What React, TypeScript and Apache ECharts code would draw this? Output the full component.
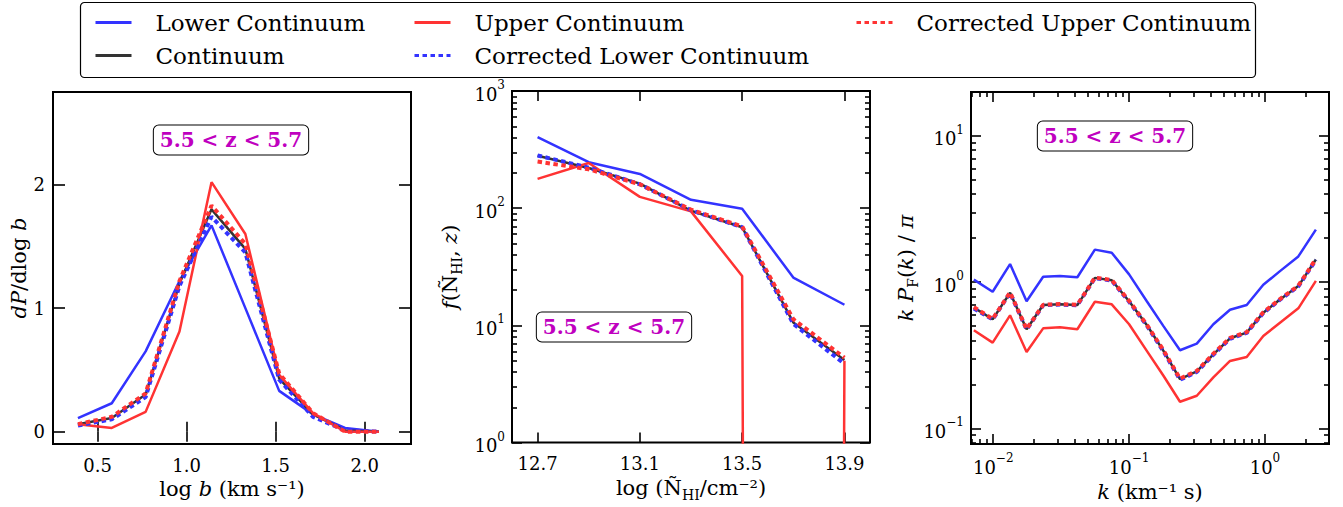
import React, { useEffect, useRef } from "react";
import * as echarts from "echarts";

// ---------- Data ----------
const SERIES_NAMES = [
  "Lower Continuum",
  "Continuum",
  "Upper Continuum",
  "Corrected Lower Continuum",
  "Corrected Upper Continuum",
];

// Panel 1: b-parameter distribution
const logB = [0.39, 0.58, 0.77, 0.96, 1.14, 1.33, 1.52, 1.71, 1.89, 2.08];
const bLower = [0.11, 0.23, 0.65, 1.22, 1.67, 1.0, 0.33, 0.14, 0.03, 0.0];
const bCont = [0.06, 0.11, 0.3, 1.2, 1.8, 1.48, 0.43, 0.14, 0.01, 0.0];
const bUpper = [0.06, 0.03, 0.16, 0.81, 2.02, 1.6, 0.46, 0.15, 0.0, 0.0];
const bCorrLower = [0.05, 0.1, 0.28, 1.18, 1.74, 1.45, 0.42, 0.12, 0.01, 0.0];
const bCorrUpper = [0.06, 0.12, 0.31, 1.22, 1.83, 1.52, 0.47, 0.15, 0.0, 0.0];

// Panel 2: column density distribution
const logN = [12.7, 12.9, 13.1, 13.3, 13.5, 13.7, 13.9];
const nLower = [404, 247, 196, 118, 99, 25.6, 15];
const nCont = [280, 220, 162, 95, 68.8, 10.6, 5.07];
const nUpper = [178, 243, 125, 94, 26.4, 1e-100, 5.0];
const nCorrLower = [282, 222, 160, 96, 69, 10.3, 4.7];
const nCorrUpper = [250, 215, 160, 97, 70, 11.3, 5.3];

// Panel 3: flux power spectrum
const kVals = [
  0.0072, 0.0099, 0.0133, 0.0176, 0.0233, 0.031, 0.0416, 0.056, 0.0745, 0.1,
  0.135, 0.179, 0.237, 0.315, 0.417, 0.553, 0.734, 0.972, 1.29, 1.76, 2.37,
];
const pLower = [
  1.04, 0.86, 1.33, 0.74, 1.09, 1.1, 1.08, 1.67, 1.59, 1.13, 0.74, 0.5, 0.342,
  0.38, 0.515, 0.648, 0.697, 0.96, 1.19, 1.5, 2.29,
];
const pCont = [
  0.67, 0.557, 0.847, 0.476, 0.697, 0.705, 0.697, 1.07, 1.03, 0.74, 0.509,
  0.339, 0.217, 0.245, 0.321, 0.413, 0.452, 0.618, 0.762, 0.94, 1.43,
];
const pUpper = [
  0.469, 0.386, 0.593, 0.333, 0.483, 0.491, 0.476, 0.735, 0.705, 0.515, 0.339,
  0.229, 0.152, 0.167, 0.223, 0.289, 0.308, 0.428, 0.528, 0.662, 1.02,
];
const pCorrLower = [
  0.66, 0.555, 0.845, 0.474, 0.695, 0.703, 0.695, 1.065, 1.025, 0.735, 0.505,
  0.336, 0.215, 0.243, 0.319, 0.41, 0.45, 0.615, 0.758, 0.935, 1.42,
];
const pCorrUpper = [
  0.675, 0.56, 0.85, 0.478, 0.7, 0.708, 0.7, 1.075, 1.035, 0.745, 0.512, 0.342,
  0.219, 0.247, 0.324, 0.416, 0.455, 0.622, 0.766, 0.945, 1.44,
];

// Tick values
const bTicksX = [0.5, 1.0, 1.5, 2.0];
const bTicksY = [0, 1, 2];
const nTicksX = [12.7, 13.1, 13.5, 13.9];
const nTicksY = [1, 10, 100, 1000];
const nMinorY = [
  2, 3, 4, 5, 6, 7, 8, 9, 20, 30, 40, 50, 60, 70, 80, 90, 200, 300, 400, 500,
  600, 700, 800, 900,
];
const kTicksX = [0.01, 0.1, 1];
const kMinorX = [
  0.007, 0.008, 0.009, 0.02, 0.03, 0.04, 0.05, 0.06, 0.07, 0.08, 0.09, 0.2, 0.3,
  0.4, 0.5, 0.6, 0.7, 0.8, 0.9, 2,
];
const kTicksY = [0.1, 1, 10];
const kMinorY = [
  0.08, 0.09, 0.2, 0.3, 0.4, 0.5, 0.6, 0.7, 0.8, 0.9, 2, 3, 4, 5, 6, 7, 8, 9,
  20,
];

const annotationText = "5.5 < z < 5.7";

// ---------- Styling ----------
const FONT = "'DejaVu Serif', serif";
const BLUE = "#3333ff";
const RED = "#ff3333";
const DARK = "#333333";
const MAGENTA = "#bf00bf";

const grids = [
  { left: 53, top: 92, width: 358, height: 352 },
  { left: 512, top: 91, width: 358, height: 353 },
  { left: 971, top: 92, width: 358, height: 353 },
];

const tickLabelStyle = { fontFamily: FONT, fontSize: 18, color: "#000" };
const NAME_FS = 21;
const richName = {
  r: { fontFamily: FONT, fontSize: NAME_FS, color: "#000" },
  i: { fontFamily: FONT, fontSize: NAME_FS, fontStyle: "italic", color: "#000" },
  sub: { fontFamily: FONT, fontSize: 14, color: "#000", verticalAlign: "bottom", lineHeight: 28 },
};
const richPow = {
  b: { fontFamily: FONT, fontSize: 18, color: "#000", lineHeight: 24, verticalAlign: "bottom" },
  s: { fontFamily: FONT, fontSize: 12, color: "#000", lineHeight: 24, verticalAlign: "top" },
};

const powFmt = (v: number) => {
  const e = Math.round(Math.log10(v));
  return `{b|10}{s|${e < 0 ? "\u2212" + -e : e}}`;
};

function mkAxis(opts: any) {
  const {
    gridIndex,
    type,
    min,
    max,
    position,
    ticks,
    len,
    labels,
    formatter,
    name,
    nameGap,
    nameRotate,
    margin,
    rich,
  } = opts;
  return {
    gridIndex,
    type,
    min,
    max,
    position,
    offset: 0,
    logBase: 10,
    axisLine: { show: false },
    splitLine: { show: false },
    minorTick: { show: false },
    axisTick: {
      show: true,
      inside: true,
      length: len,
      customValues: ticks,
      lineStyle: { color: "#000", width: 1.6 },
    },
    axisLabel: labels
      ? {
          show: true,
          customValues: ticks,
          formatter,
          margin: margin ?? 10,
          ...tickLabelStyle,
          rich,
        }
      : { show: false },
    name: name || "",
    nameLocation: "middle",
    nameGap: nameGap ?? 30,
    nameRotate,
    nameTextStyle: { rich: richName, fontFamily: FONT, fontSize: NAME_FS, color: "#000" },
  };
}

function buildSeries(x: number[], ys: number[][], xi: number, yi: number) {
  const styles = [
    { color: BLUE, width: 2.5, type: "solid" },
    { color: DARK, width: 2.5, type: "solid" },
    { color: RED, width: 2.5, type: "solid" },
    { color: BLUE, width: 4, type: [4.5, 3.5] },
    { color: RED, width: 4, type: [4.5, 3.5] },
  ];
  return ys.map((arr, i) => ({
    name: SERIES_NAMES[i],
    type: "line",
    xAxisIndex: xi,
    yAxisIndex: yi,
    data: arr.map((v, j) => [x[j], v]),
    showSymbol: false,
    symbol: "none",
    clip: true,
    lineStyle: { color: styles[i].color, width: styles[i].width, type: styles[i].type as any },
    itemStyle: { color: styles[i].color },
    emphasis: { disabled: true },
    z: 2 + i,
  }));
}

export default function App() {
  const ref = useRef<HTMLDivElement>(null);

  useEffect(() => {
    if (!ref.current) return;
    const chart = echarts.init(ref.current, undefined, { renderer: "svg" });

    const xAxis = [
      // panel 1
      mkAxis({
        gridIndex: 0, type: "value", min: 0.25, max: 2.26, position: "bottom",
        ticks: bTicksX, len: 10, labels: true, formatter: (v: number) => v.toFixed(1),
        name: "{r|log }{i|b}{r| (km s\u207B\u00B9)}", nameGap: 32, margin: 12,
      }),
      mkAxis({ gridIndex: 0, type: "value", min: 0.25, max: 2.26, position: "top", ticks: bTicksX, len: 10 }),
      // panel 2
      mkAxis({
        gridIndex: 1, type: "value", min: 12.6, max: 14.0, position: "bottom",
        ticks: nTicksX, len: 10, labels: true, formatter: (v: number) => v.toFixed(1),
        name: "{r|log (\u00D1}{sub|HI}{r|/cm\u207B\u00B2)}", nameGap: 31, margin: 12,
      }),
      mkAxis({ gridIndex: 1, type: "value", min: 12.6, max: 14.0, position: "top", ticks: nTicksX, len: 10 }),
      // panel 3
      mkAxis({
        gridIndex: 2, type: "log", min: 0.00686, max: 2.96, position: "bottom",
        ticks: kTicksX, len: 10, labels: true, formatter: powFmt, rich: richPow,
        name: "{i|k}{r| (km\u207B\u00B9 s)}", nameGap: 32, margin: 8,
      }),
      mkAxis({ gridIndex: 2, type: "log", min: 0.00686, max: 2.96, position: "top", ticks: kTicksX, len: 10 }),
      mkAxis({ gridIndex: 2, type: "log", min: 0.00686, max: 2.96, position: "bottom", ticks: kMinorX, len: 5 }),
      mkAxis({ gridIndex: 2, type: "log", min: 0.00686, max: 2.96, position: "top", ticks: kMinorX, len: 5 }),
    ];

    const yAxis = [
      // panel 1
      mkAxis({
        gridIndex: 0, type: "value", min: -0.1, max: 2.75, position: "left",
        ticks: bTicksY, len: 12, labels: true, formatter: (v: number) => String(v),
        name: "{i|dP}{r|/dlog }{i|b}", nameGap: 24, nameRotate: 90, margin: 8,
      }),
      mkAxis({ gridIndex: 0, type: "value", min: -0.1, max: 2.75, position: "right", ticks: bTicksY, len: 12 }),
      // panel 2
      mkAxis({
        gridIndex: 1, type: "log", min: 1, max: 1000, position: "left",
        ticks: nTicksY, len: 10, labels: true, formatter: powFmt, rich: richPow,
        name: "{i|f}{r|(\u00D1}{sub|HI}{r|, }{i|z}{r|)}", nameGap: 48, nameRotate: 90, margin: 7,
      }),
      mkAxis({ gridIndex: 1, type: "log", min: 1, max: 1000, position: "right", ticks: nTicksY, len: 10 }),
      mkAxis({ gridIndex: 1, type: "log", min: 1, max: 1000, position: "left", ticks: nMinorY, len: 5 }),
      mkAxis({ gridIndex: 1, type: "log", min: 1, max: 1000, position: "right", ticks: nMinorY, len: 5 }),
      // panel 3
      mkAxis({
        gridIndex: 2, type: "log", min: 0.078, max: 20, position: "left",
        ticks: kTicksY, len: 10, labels: true, formatter: powFmt, rich: richPow,
        name: "{i|k P}{sub|F}{r|(}{i|k}{r|) / }{i|\u03C0}", nameGap: 48, nameRotate: 90, margin: 7,
      }),
      mkAxis({ gridIndex: 2, type: "log", min: 0.078, max: 20, position: "right", ticks: kTicksY, len: 10 }),
      mkAxis({ gridIndex: 2, type: "log", min: 0.078, max: 20, position: "left", ticks: kMinorY, len: 5 }),
      mkAxis({ gridIndex: 2, type: "log", min: 0.078, max: 20, position: "right", ticks: kMinorY, len: 5 }),
    ];

    const series = [
      ...buildSeries(logB, [bLower, bCont, bUpper, bCorrLower, bCorrUpper], 0, 0),
      ...buildSeries(logN, [nLower, nCont, nUpper, nCorrLower, nCorrUpper], 2, 2),
      ...buildSeries(kVals, [pLower, pCont, pUpper, pCorrLower, pCorrUpper], 4, 6),
    ];

    const legendCommon = {
      orient: "vertical",
      top: 10,
      padding: 0,
      itemWidth: 36,
      itemHeight: 14,
      itemGap: 8,
      selectedMode: false,
      itemStyle: { color: "transparent", borderColor: "transparent", borderWidth: 0 },
      lineStyle: { width: 3 },
      textStyle: {
        fontFamily: FONT,
        fontSize: 23,
        color: "#000",
        lineHeight: 25,
        padding: [0, 0, 0, 19],
      },
    };

    const annot = (cx: number, cy: number) => ({
      type: "text",
      x: cx,
      y: cy,
      z: 100,
      style: {
        text: annotationText,
        align: "center",
        verticalAlign: "middle",
        fill: MAGENTA,
        font: `bold 20px ${FONT}`,
        backgroundColor: "#fff",
        borderColor: "#000",
        borderWidth: 1,
        borderRadius: 5,
        padding: [5, 6, 4, 6],
      },
    });

    chart.setOption({
      animation: false,
      backgroundColor: "#fff",
      grid: grids.map((g) => ({
        ...g,
        show: true,
        borderColor: "#000",
        borderWidth: 2,
        backgroundColor: "transparent",
        containLabel: false,
      })),
      legend: [
        { ...legendCommon, left: 94, data: ["Lower Continuum", "Continuum"] },
        { ...legendCommon, left: 413, data: ["Upper Continuum", "Corrected Lower Continuum"] },
        { ...legendCommon, left: 855, data: ["Corrected Upper Continuum"] },
      ],
      xAxis,
      yAxis,
      series,
      graphic: [
        {
          type: "rect",
          shape: { x: 80.5, y: 2.5, width: 1175, height: 75, r: 4 },
          style: { fill: "transparent", stroke: "#000", lineWidth: 1.2 },
          z: 50,
        },
        annot(231, 140),
        annot(614, 327),
        annot(1115, 136),
      ],
    });

    return () => chart.dispose();
  }, []);

  return (
    <div
      ref={ref}
      style={{ position: "absolute", left: 0, top: 0, width: 1343, height: 507 }}
    />
  );
}
